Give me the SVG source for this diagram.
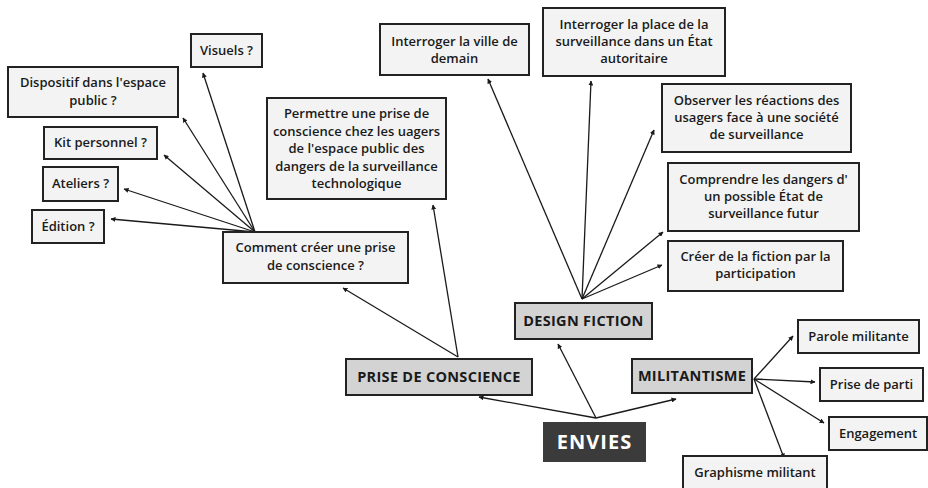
<svg xmlns="http://www.w3.org/2000/svg" width="928" height="488" viewBox="0 0 928 488">
  <style>
    .leaf { fill: #f3f3f3; stroke: #222; stroke-width: 2; }
    .cat { fill: #d3d3d3; stroke: #222; stroke-width: 2; }
    .root { fill: #3b3b3b; }
    text { font-family: "Open Sans", "DejaVu Sans", sans-serif; font-weight: 600; font-size: 13px; fill: #1a1a1a; text-anchor: middle; }
    .cattxt { font-size: 14.5px; font-weight: 700; letter-spacing: 0.3px; }
    .roottxt { font-size: 20px; font-weight: 700; fill: #fff; letter-spacing: 1px; }
    .link { stroke: #1a1a1a; stroke-width: 1.3; fill: none; marker-end: url(#arr); }
  </style>
  <defs>
    <marker id="arr" viewBox="0 0 10 10" refX="9" refY="5" markerWidth="5" markerHeight="5" orient="auto" markerUnits="userSpaceOnUse">
      <path d="M0,0 L10,5 L0,10 z" fill="#1a1a1a"/>
    </marker>
  </defs>
  <rect width="928" height="488" fill="#fff"/>

  <g id="connectors">
    <!-- from "Comment créer" -->
    <line class="link" x1="255" y1="232" x2="203" y2="73"/>
    <line class="link" x1="255" y1="232" x2="183" y2="118"/>
    <line class="link" x1="255" y1="232" x2="164" y2="155"/>
    <line class="link" x1="255" y1="232" x2="124" y2="189"/>
    <line class="link" x1="255" y1="232" x2="111" y2="219"/>
    <!-- from PRISE DE CONSCIENCE -->
    <line class="link" x1="458" y1="357" x2="343" y2="288"/>
    <line class="link" x1="458" y1="357" x2="433" y2="205"/>
    <!-- from DESIGN FICTION -->
    <line class="link" x1="582" y1="299" x2="488" y2="79"/>
    <line class="link" x1="582" y1="299" x2="591" y2="81"/>
    <line class="link" x1="582" y1="299" x2="654" y2="130"/>
    <line class="link" x1="582" y1="299" x2="663" y2="232"/>
    <line class="link" x1="582" y1="299" x2="662" y2="265"/>
    <!-- from ENVIES -->
    <line class="link" x1="596" y1="418" x2="479" y2="397"/>
    <line class="link" x1="596" y1="418" x2="558" y2="344"/>
    <line class="link" x1="596" y1="418" x2="676" y2="399"/>
    <!-- from MILITANTISME -->
    <line class="link" x1="754" y1="379" x2="793" y2="336"/>
    <line class="link" x1="754" y1="379" x2="815" y2="382"/>
    <line class="link" x1="754" y1="379" x2="824" y2="423"/>
    <line class="link" x1="754" y1="379" x2="784" y2="458"/>
  </g>

  <g id="visuels">
    <rect class="leaf" x="191" y="34" width="71" height="33"/>
    <text x="226.5" y="55">Visuels ?</text>
  </g>
  <g id="dispositif">
    <rect class="leaf" x="8" y="67" width="170" height="50"/>
    <text x="93" y="87">Dispositif dans l'espace</text>
    <text x="93" y="105">public ?</text>
  </g>
  <g id="kit">
    <rect class="leaf" x="44" y="127" width="113" height="32"/>
    <text x="100.5" y="147">Kit personnel ?</text>
  </g>
  <g id="ateliers">
    <rect class="leaf" x="43" y="167" width="75" height="34"/>
    <text x="80.5" y="188">Ateliers ?</text>
  </g>
  <g id="edition">
    <rect class="leaf" x="32" y="210" width="72" height="33"/>
    <text x="68" y="231">Édition ?</text>
  </g>
  <g id="comment">
    <rect class="leaf" x="223" y="232" width="185" height="51"/>
    <text x="315.5" y="252">Comment créer une prise</text>
    <text x="315.5" y="270">de conscience ?</text>
  </g>
  <g id="permettre">
    <rect class="leaf" x="267" y="98" width="179" height="101"/>
    <text x="356.5" y="118">Permettre une prise de</text>
    <text x="356.5" y="135.5">conscience chez les uagers</text>
    <text x="356.5" y="153">de l'espace public des</text>
    <text x="356.5" y="170.5">dangers de la surveillance</text>
    <text x="356.5" y="188">technologique</text>
  </g>
  <g id="ville">
    <rect class="leaf" x="380" y="24" width="149" height="51"/>
    <text x="454.5" y="46">Interroger la ville de</text>
    <text x="454.5" y="63">demain</text>
  </g>
  <g id="place">
    <rect class="leaf" x="543" y="8" width="182" height="68"/>
    <text x="634" y="29">Interroger la place de la</text>
    <text x="634" y="46">surveillance dans un État</text>
    <text x="634" y="63">autoritaire</text>
  </g>
  <g id="observer">
    <rect class="leaf" x="662" y="84" width="189" height="68"/>
    <text x="756.5" y="105">Observer les réactions des</text>
    <text x="756.5" y="122">usagers face à une société</text>
    <text x="756.5" y="139">de surveillance</text>
  </g>
  <g id="comprendre">
    <rect class="leaf" x="668" y="163" width="191" height="68"/>
    <text x="763.5" y="184">Comprendre les dangers d'</text>
    <text x="763.5" y="201">un possible État de</text>
    <text x="763.5" y="218">surveillance futur</text>
  </g>
  <g id="creer">
    <rect class="leaf" x="668" y="241" width="175" height="50"/>
    <text x="755.5" y="261">Créer de la fiction par la</text>
    <text x="755.5" y="278">participation</text>
  </g>
  <g id="design-fiction">
    <rect class="cat" x="515" y="303" width="137" height="36"/>
    <text class="cattxt" x="583.5" y="326">DESIGN FICTION</text>
  </g>
  <g id="prise-de-conscience">
    <rect class="cat" x="346" y="359" width="186" height="36"/>
    <text class="cattxt" x="439" y="382">PRISE DE CONSCIENCE</text>
  </g>
  <g id="militantisme">
    <rect class="cat" x="632" y="359" width="120" height="34"/>
    <text class="cattxt" x="692" y="381">MILITANTISME</text>
  </g>
  <g id="envies">
    <rect class="root" x="543" y="422" width="103" height="40"/>
    <text class="roottxt" x="594.5" y="449">ENVIES</text>
  </g>
  <g id="parole">
    <rect class="leaf" x="798" y="320" width="121" height="33"/>
    <text x="858.5" y="341">Parole militante</text>
  </g>
  <g id="prise-de-parti">
    <rect class="leaf" x="820" y="368" width="103" height="33"/>
    <text x="871.5" y="389">Prise de parti</text>
  </g>
  <g id="engagement">
    <rect class="leaf" x="829" y="417" width="98" height="33"/>
    <text x="878" y="438">Engagement</text>
  </g>
  <g id="graphisme">
    <rect class="leaf" x="683" y="456" width="144" height="40"/>
    <text x="755" y="477">Graphisme militant</text>
  </g>
</svg>
